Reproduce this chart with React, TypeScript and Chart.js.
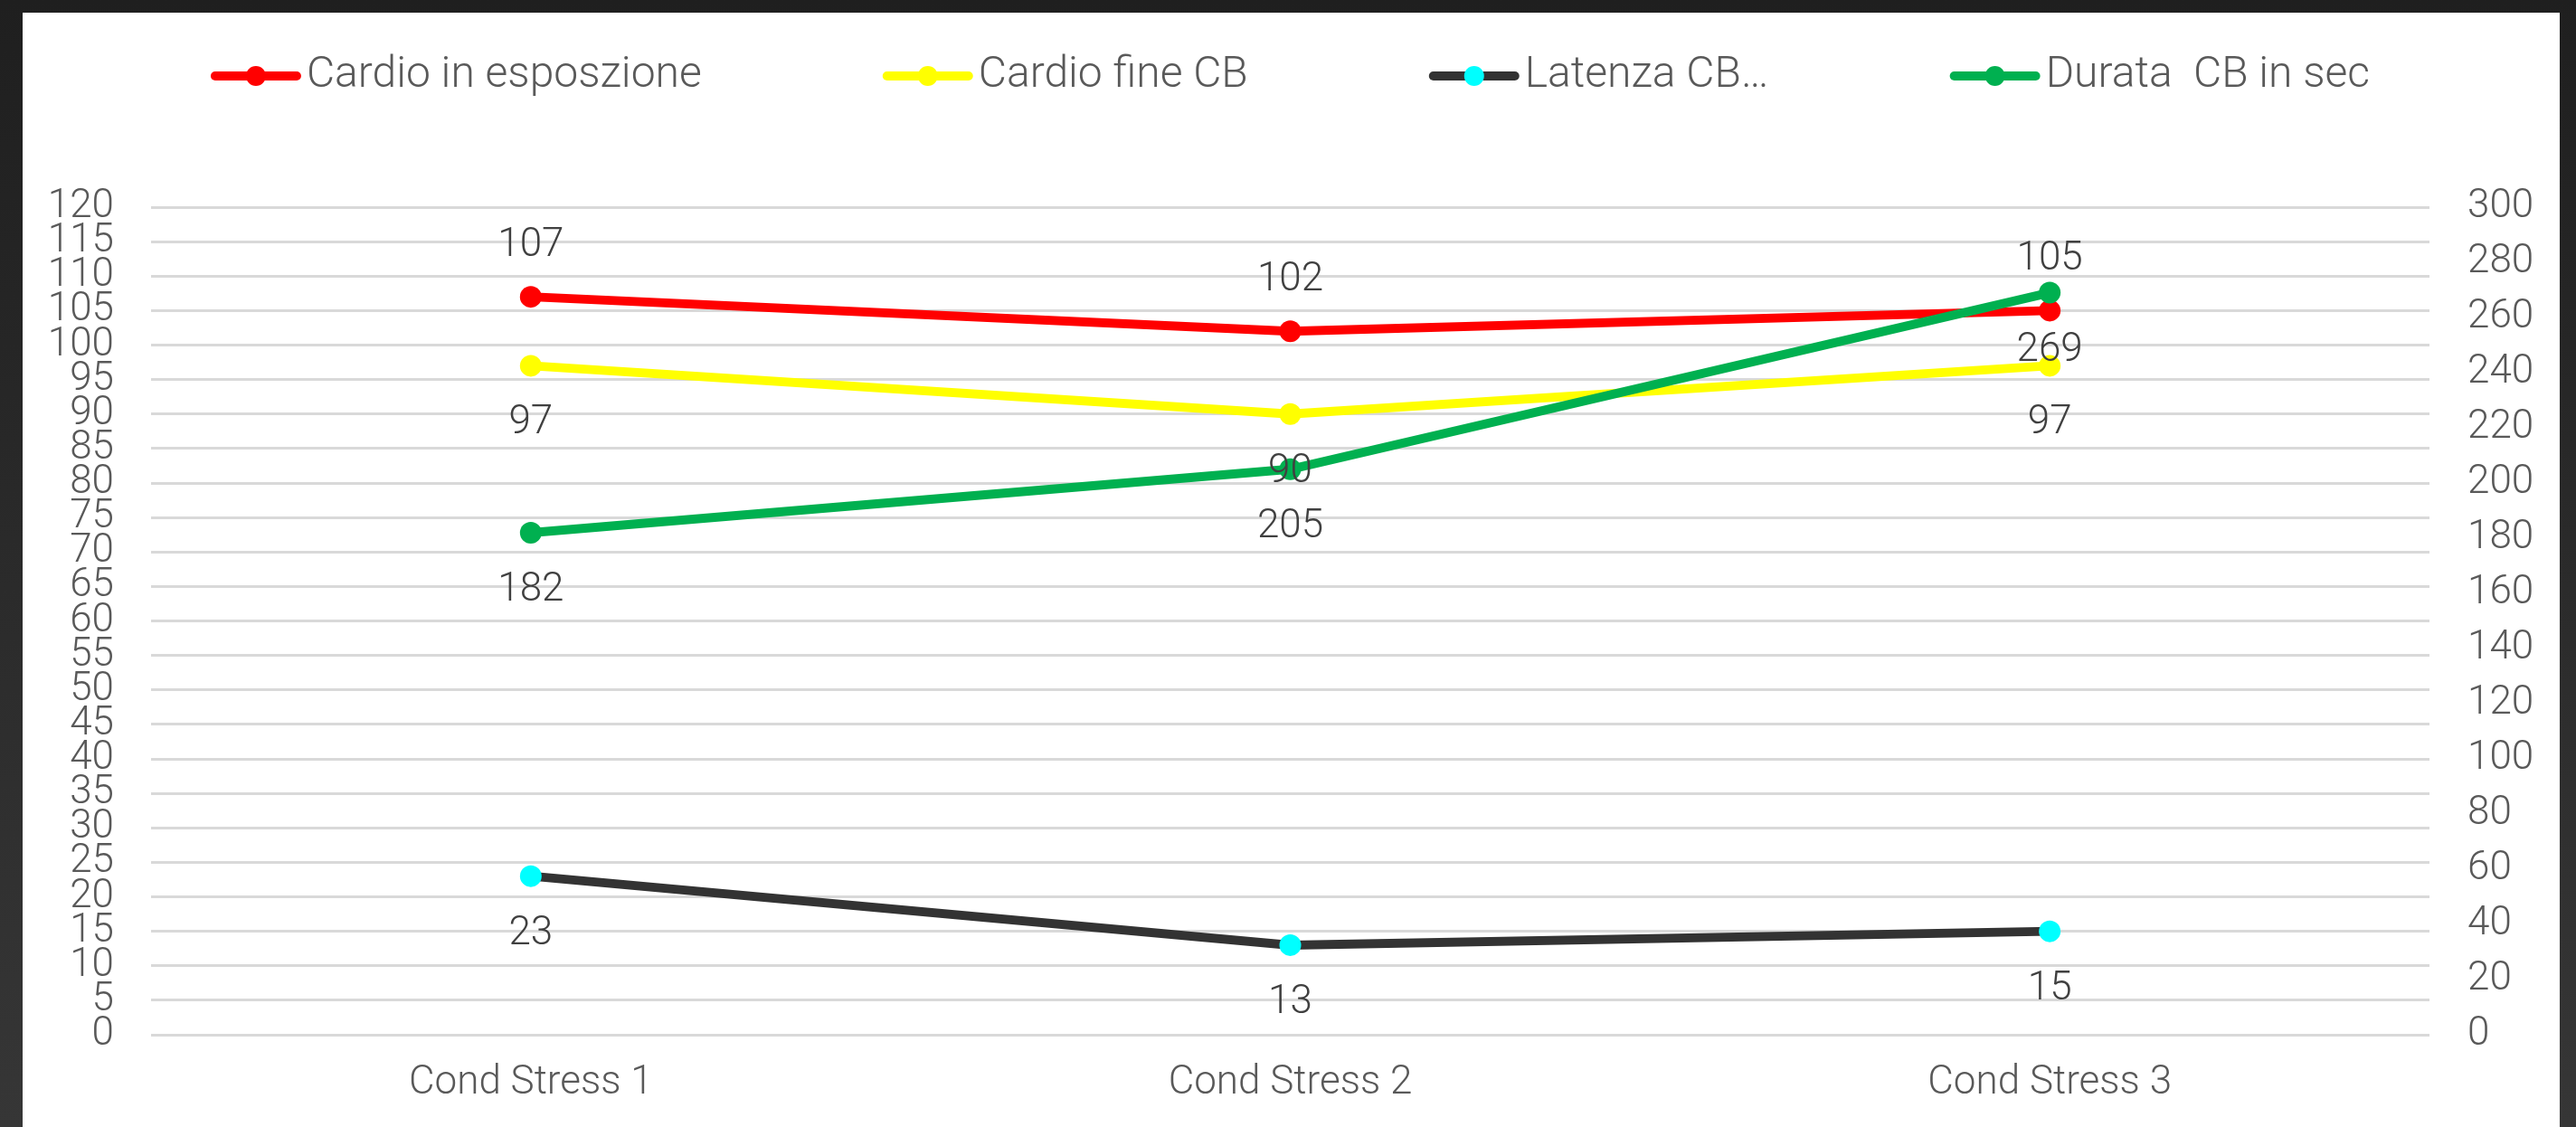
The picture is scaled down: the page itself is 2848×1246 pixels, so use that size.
import { useEffect, useRef } from "react";
import { Chart, registerables } from "chart.js";

Chart.register(...registerables);

// Categories and series values
const categories = ["Cond Stress 1", "Cond Stress 2", "Cond Stress 3"];
const cardioEsposizione = [107, 102, 105];
const cardioFineCB = [97, 90, 97];
const latenzaCB = [23, 13, 15];
const durataCB = [182, 205, 269];

const seriesNames = [
  "Cardio in esposzione",
  "Cardio fine CB",
  "Latenza CB…",
  "Durata  CB in sec",
];

// Axis ranges
const leftMax = 120;
const leftStep = 5;
const rightMax = 300;
const rightStep = 20;

const FONT = "Roboto, 'Liberation Sans', sans-serif";
const AXIS_COLOR = "#595959";
const LABEL_COLOR = "#404040";
const FONT_SIZE = 44;
const LEGEND_FONT_SIZE = 48;

// Legend drawn as line-with-marker samples, centred above the plot
const lineLegend = {
  id: "lineLegend",
  afterDraw(chart: any) {
    const ctx = chart.ctx;
    const items = chart.data.datasets.map((ds: any) => ({
      label: ds.label,
      line: ds.borderColor,
      dot: ds.pointBackgroundColor,
    }));
    ctx.save();
    ctx.font = `300 ${LEGEND_FONT_SIZE}px ${FONT}`;
    const lineLen = 100;
    const textGap = 6;
    const itemGap = 200;
    const widths = items.map(
      (it: any) => lineLen + textGap + ctx.measureText(it.label).width
    );
    const total =
      widths.reduce((a: number, b: number) => a + b, 0) +
      itemGap * (items.length - 1);
    let x = (chart.chartArea.left + chart.chartArea.right) / 2 - total / 2;
    const y = 70;
    items.forEach((it: any, i: number) => {
      ctx.strokeStyle = it.line;
      ctx.lineWidth = 10;
      ctx.lineCap = "round";
      ctx.beginPath();
      ctx.moveTo(x + 5, y);
      ctx.lineTo(x + lineLen - 5, y);
      ctx.stroke();
      ctx.fillStyle = it.dot;
      ctx.beginPath();
      ctx.arc(x + lineLen / 2, y, 11, 0, Math.PI * 2);
      ctx.fill();
      ctx.fillStyle = AXIS_COLOR;
      ctx.textAlign = "left";
      ctx.textBaseline = "middle";
      ctx.fillText(it.label, x + lineLen + textGap, y);
      x += widths[i] + itemGap;
    });
    ctx.restore();
  },
};

// Value labels next to every point
const valueLabels = {
  id: "valueLabels",
  afterDatasetsDraw(chart: any) {
    const ctx = chart.ctx;
    ctx.save();
    ctx.font = `300 ${FONT_SIZE}px ${FONT}`;
    ctx.fillStyle = LABEL_COLOR;
    ctx.textAlign = "center";
    ctx.textBaseline = "middle";
    chart.data.datasets.forEach((ds: any, i: number) => {
      const meta = chart.getDatasetMeta(i);
      meta.data.forEach((pt: any, j: number) => {
        const dy = ds.labelSide === "above" ? -56 : 64;
        ctx.fillText(String(ds.data[j]), pt.x, pt.y + dy);
      });
    });
    ctx.restore();
  },
};

export default function App() {
  const canvasRef = useRef<HTMLCanvasElement | null>(null);

  useEffect(() => {
    const canvas = canvasRef.current;
    if (!canvas) return;

    const lineStyle = (color: string, point: string) => ({
      borderColor: color,
      backgroundColor: color,
      pointBackgroundColor: point,
      pointBorderColor: point,
      pointRadius: 12,
      pointHoverRadius: 12,
      pointBorderWidth: 0,
      borderWidth: 10,
      tension: 0,
    });

    const chart = new Chart(canvas, {
      type: "line",
      data: {
        labels: categories,
        datasets: [
          {
            label: seriesNames[0],
            data: cardioEsposizione,
            yAxisID: "y",
            order: 3,
            labelSide: "above",
            ...lineStyle("#FF0000", "#FF0000"),
          } as any,
          {
            label: seriesNames[1],
            data: cardioFineCB,
            yAxisID: "y",
            order: 2,
            labelSide: "below",
            ...lineStyle("#FFFF00", "#FFFF00"),
          } as any,
          {
            label: seriesNames[2],
            data: latenzaCB,
            yAxisID: "y",
            order: 1,
            labelSide: "below",
            ...lineStyle("#333333", "#00FFFF"),
          } as any,
          {
            label: seriesNames[3],
            data: durataCB,
            yAxisID: "y1",
            order: 0,
            labelSide: "below",
            ...lineStyle("#00B050", "#00B050"),
          } as any,
        ],
      },
      options: {
        responsive: false,
        animation: false,
        layout: { padding: { top: 215, left: 0, right: 0, bottom: 0 } },
        plugins: {
          legend: { display: false },
          tooltip: { enabled: false },
        },
        scales: {
          x: {
            type: "category",
            offset: true,
            grid: { display: false, drawTicks: false },
            border: { display: false },
            ticks: {
              color: AXIS_COLOR,
              font: { family: FONT, size: FONT_SIZE, weight: "300" },
              padding: 28,
              maxRotation: 0,
            },
            afterFit(scale: any) {
              scale.height = 102;
            },
          },
          y: {
            type: "linear",
            position: "left",
            min: 0,
            max: leftMax,
            grid: { color: "#D9D9D9", lineWidth: 3, drawTicks: false },
            border: { display: false },
            ticks: {
              stepSize: leftStep,
              autoSkip: false,
              color: AXIS_COLOR,
              font: { family: FONT, size: FONT_SIZE, weight: "300" },
              padding: 41,
            },
            afterFit(scale: any) {
              scale.width = 142;
            },
          },
          y1: {
            type: "linear",
            position: "right",
            min: 0,
            max: rightMax,
            grid: { display: false, drawTicks: false },
            border: { display: false },
            ticks: {
              stepSize: rightStep,
              autoSkip: false,
              color: AXIS_COLOR,
              font: { family: FONT, size: FONT_SIZE, weight: "300" },
              padding: 42,
            },
            afterFit(scale: any) {
              scale.width = 144;
            },
          },
        },
      } as any,
      plugins: [lineLegend, valueLabels],
    });

    return () => chart.destroy();
  }, []);

  return (
    <div
      style={{
        position: "fixed",
        left: 0,
        top: 0,
        width: 2848,
        height: 1246,
        background: "linear-gradient(#1f1f1f, #363636)",
        overflow: "hidden",
      }}
    >
      <div
        style={{
          position: "absolute",
          left: 25,
          top: 14,
          width: 2805,
          height: 1232,
          background: "#FFFFFF",
        }}
      >
        <canvas
          ref={canvasRef}
          width={2805}
          height={1232}
          style={{ width: 2805, height: 1232, display: "block" }}
        />
      </div>
    </div>
  );
}
